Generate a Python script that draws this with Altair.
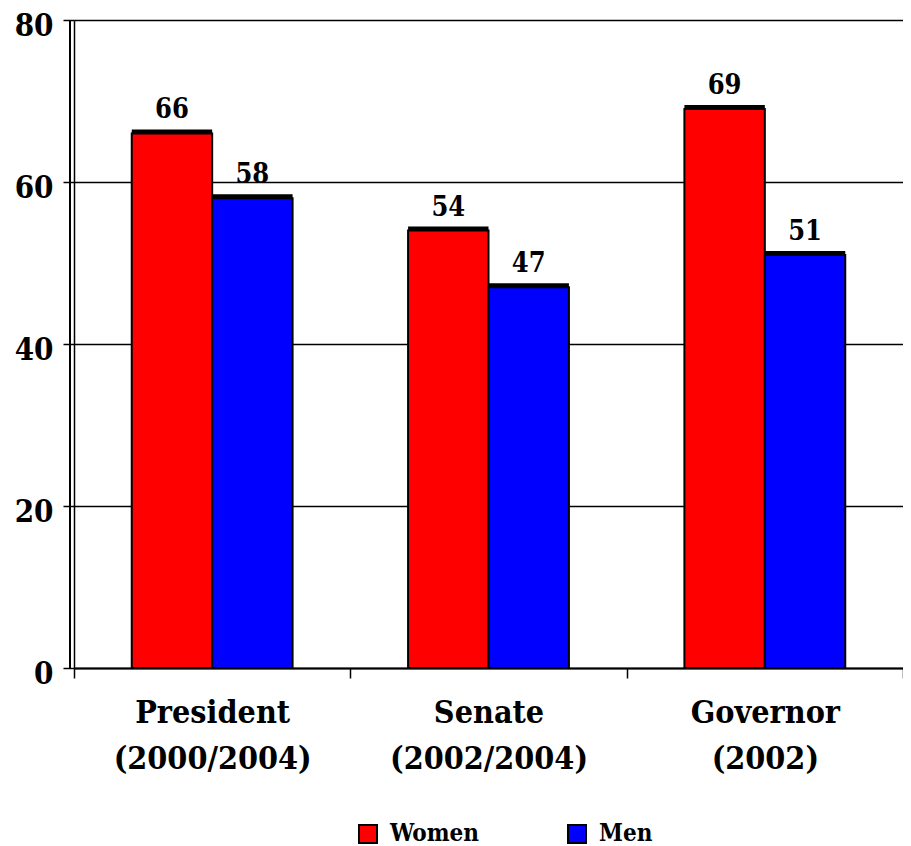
import altair as alt
import pandas as pd

categories = ["President|(2000/2004)", "Senate|(2002/2004)", "Governor|(2002)"]
groups = ["Women", "Men"]
women = [66, 54, 69]
men = [58, 47, 51]
y_ticks = [0, 20, 40, 60, 80]
colors = ["#FF0000", "#0000FF"]

rows = []
for c, w, m in zip(categories, women, men):
    rows.append({"category": c, "gender": "Women", "value": w})
    rows.append({"category": c, "gender": "Men", "value": m})
df = pd.DataFrame(rows)

FONT = "DejaVu Serif Condensed"

x = alt.X("category:N", sort=categories,
          scale=alt.Scale(paddingInner=0, paddingOuter=0),
          axis=alt.Axis(title=None, labelAngle=0, labelExpr="split(datum.label, '|')",
                        tickBand="extent", tickSize=10, tickColor="black", tickWidth=1.5,
                        domainColor="black", domainWidth=2, labelLimit=0,
                        labelFont=FONT, labelFontSize=32, labelFontWeight="bold",
                        labelColor="black", labelPadding=19, labelLineHeight=46,
                        labelBaseline="top"))
xo = alt.XOffset("gender:N", sort=groups,
                 scale=alt.Scale(paddingInner=0, paddingOuter=0.718))
y = alt.Y("value:Q", scale=alt.Scale(domain=[0, 80], nice=False),
          axis=alt.Axis(title=None, values=y_ticks, grid=True, gridColor="black",
                        gridWidth=1.5, gridOpacity=1, tickSize=11, tickColor="black",
                        tickWidth=1.5, domainColor="black", domainWidth=1.5,
                        labelFont=FONT, labelFontSize=31, labelFontWeight="bold",
                        labelColor="black", labelPadding=10, labelOffset=6))

color = alt.Color("gender:N", sort=groups,
                  scale=alt.Scale(domain=groups, range=colors),
                  legend=alt.Legend(title=None, orient="none", direction="horizontal",
                                    legendX=282, legendY=802,
                                    symbolType="square", symbolSize=324,
                                    symbolStrokeColor="black", symbolStrokeWidth=2,
                                    symbolOpacity=1, labelLimit=0,
                                    labelFont=FONT, labelFontSize=24, labelFontWeight="bold",
                                    labelColor="black", labelOffset=10, columnPadding=85))

base = alt.Chart(df)

shadow = base.mark_bar(color="black", xOffset=4, yOffset=-4).encode(x=x, xOffset=xo, y=y)
bars = base.mark_bar(stroke="black", strokeWidth=2, opacity=1).encode(
    x=x, xOffset=xo, y=y, color=color)
labels = base.mark_text(baseline="bottom", dy=-9, font=FONT, fontSize=27,
                        fontWeight="bold", color="black").encode(
    x=x, xOffset=xo, y=y, text="value:Q")

wall = alt.Chart(df).mark_rule(color="black", strokeWidth=1.5).encode(
    x=alt.value(-4), y=alt.datum(0), y2=alt.datum(80))

chart = alt.layer(wall, shadow, bars, labels).properties(
    width=829, height=648,
    autosize=alt.AutoSizeParams(type="none"),
    padding={"left": 66, "top": 12, "right": 0, "bottom": 178},
).configure_view(stroke=None).configure(background="white")

chart.save("out.html", embed_options={"renderer": "svg", "actions": False})
